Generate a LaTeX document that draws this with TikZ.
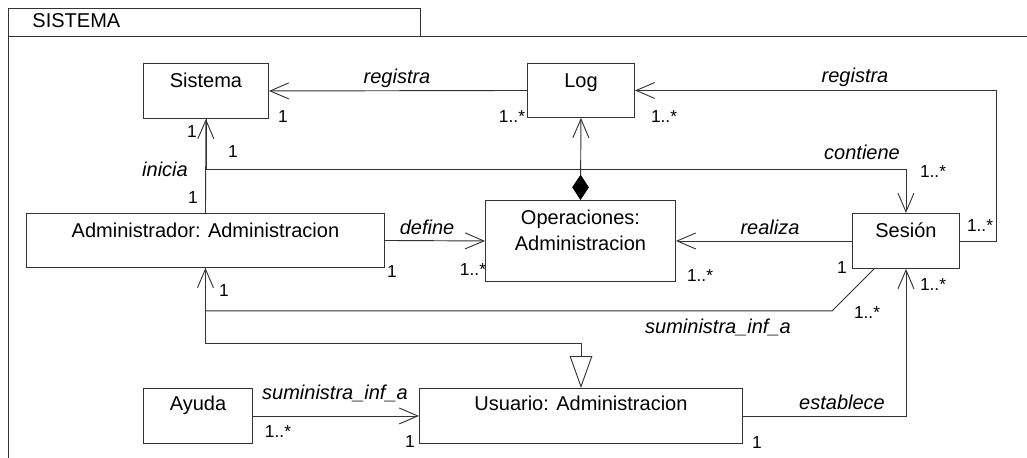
\documentclass[tikz,border=0pt]{standalone}
\usepackage{fontspec}
\setmainfont{Liberation Sans}
\usetikzlibrary{arrows.meta}

\begin{document}
\begin{tikzpicture}[x=.75pt,y=-.75pt,line width=.7pt,
  cls/.style={draw=black!80,anchor=north west,inner sep=0pt,align=center,
    font=\fontsize{15}{19.5}\selectfont},
  role/.style={inner sep=0pt,font=\fontsize{15}{17}\selectfont\itshape},
  mult/.style={inner sep=0pt,font=\fontsize{13}{15}\selectfont},
  link/.style={draw=black!80},
  assoc/.style={link,-{Straight Barb[length=14pt,width=12pt]}}]
\useasboundingbox (0,0) rectangle (1027,457);
\draw[black!80] (8,8) rectangle (420,36);
\draw[black!80] (1030,36) -- (8,36) -- (8,460);
\node[anchor=west,inner sep=0pt,font=\fontsize{15}{17}\selectfont] (pkg) at (32,21) {SISTEMA};

\node[cls,minimum width=93.75pt,text height=18pt,text depth=23.25pt] (sistema) at (143,63) {Sistema};
\node[cls,minimum width=80.25pt,text height=18pt,text depth=22.5pt] (log) at (527,63) {Log};
\node[cls,minimum width=268.5pt,text height=18pt,text depth=22.5pt] (admin) at (26,213) {Administrador: Administracion};
\node[cls,minimum width=142.5pt,text height=37.5pt,text depth=23.25pt] (oper) at (485,200) {Operaciones:\\Administracion};
\node[cls,minimum width=80.25pt,text height=18pt,text depth=23.25pt] (sesion) at (852,213) {Sesión};
\node[cls,minimum width=81.75pt,text height=16.5pt,text depth=24.75pt] (ayuda) at (143,388) {Ayuda};
\node[cls,minimum width=242.25pt,text height=16.5pt,text depth=24.75pt] (usuario) at (419,388) {Usuario: Administracion};

\draw[assoc] (log.west) -- (sistema.east);
\draw[assoc] (sesion.east) -- ++(37,0) |- (log.east);
\draw[link,{Diamond[length=19pt,width=12.5pt,black]}-{Straight Barb[length=14pt,width=12pt]}] (oper.north) -- (log.south);
\draw[assoc] (admin.north) -- (sistema.south);
\draw[assoc] (sistema.south) -- ++(0,51) -| (sesion.north);
\draw[assoc] (admin.east) -- (oper.west);
\draw[assoc] (sesion.west) -- (oper.east);
\draw[assoc] ([xshift=16.5pt]sesion.south west) -- ++(-42,42) -| (admin.south);
\draw[link,-{Triangle[open,length=24pt,width=17pt,fill=white]}] (admin.south) -- ++(0,76) -| (usuario.north);
\draw[assoc] (ayuda.east) -- (usuario.west);
\draw[assoc] (usuario.east) -| (sesion.south);

\node[role] (rgSis) at (397,78) {registra};
\node[role] (rgSes) at (855,77) {registra};
\node[role] (ini) at (165,169) {inicia};
\node[role] (cont) at (862,152) {contiene};
\node[role] (def) at (427,227) {define};
\node[role] (real) at (770,227) {realiza};
\node[role] (sumSes) at (718,327) {suministra\_inf\_a};
\node[role] (sumAy) at (335,393) {suministra\_inf\_a};
\node[role] (est) at (842,402) {establece};

\node[mult] (m1) at (283,117) {1};
\node[mult] (m2) at (512,117) {1..*};
\node[mult] (m3) at (664,117) {1..*};
\node[mult] (m4) at (192,132) {1};
\node[mult] (m5) at (233,152) {1};
\node[mult] (m6) at (193,198) {1};
\node[mult] (m7) at (933,172) {1..*};
\node[mult] (m8) at (980,226) {1..*};
\node[mult] (m9) at (392,272) {1};
\node[mult] (m10) at (473,270) {1..*};
\node[mult] (m11) at (700,276) {1..*};
\node[mult] (m12) at (842,268) {1};
\node[mult] (m13) at (224,291) {1};
\node[mult] (m14) at (867,313) {1..*};
\node[mult] (m15) at (933,285) {1..*};
\node[mult] (m16) at (278,432) {1..*};
\node[mult] (m17) at (410,442) {1};
\node[mult] (m18) at (757,443) {1};
\end{tikzpicture}
\end{document}
